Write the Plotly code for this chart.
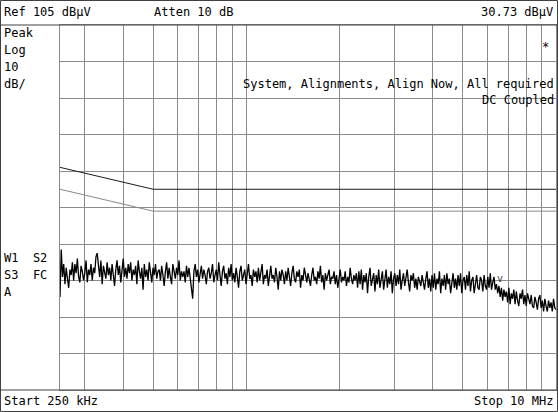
import numpy as np
import plotly.graph_objects as go

# ---------------- data ----------------
start_hz = 250e3
stop_hz = 10e6
n_points = 401

trace_dbuv = [
    30.5, 43.5, 36.0, 39.5, 34.0, 38.5, 35.5, 33.0, 38.0, 36.5, 40.0, 35.0, 39.5, 37.0, 41.0, 36.0, 34.5, 39.0, 37.5, 35.0,
    37.0, 40.5, 34.5, 38.0, 36.5, 39.5, 35.0, 38.5, 37.0, 41.5, 42.5, 38.0, 36.0, 40.5, 34.0, 39.0, 37.5, 35.5, 40.0, 36.5,
    38.5, 35.0, 39.5, 37.0, 33.5, 38.0, 40.5, 36.5, 39.0, 34.5, 37.5, 41.0, 36.0, 38.5, 35.5, 39.5, 37.0, 40.0, 35.0, 38.0,
    36.5, 39.0, 34.0, 40.5, 37.5, 35.5, 38.5, 32.5, 39.5, 36.0, 38.0, 35.0, 40.0, 37.0, 34.5, 38.5, 36.5, 39.5, 35.5, 37.5,
    38.0, 35.0, 39.0, 36.5, 33.5, 37.5, 40.0, 35.5, 38.5, 36.0, 34.0, 39.5, 37.0, 35.5, 38.5, 36.5, 40.5, 35.0, 37.5, 36.0,
    37.5, 34.5, 39.0, 36.0, 38.5, 35.0, 33.0, 30.0, 37.5, 39.5, 36.0, 38.0, 34.5, 37.0, 39.0, 35.5, 38.0, 36.5, 34.0, 37.5,
    38.5, 35.5, 37.0, 39.5, 34.5, 36.5, 38.0, 35.0, 40.0, 36.5, 33.5, 37.5, 39.0, 35.5, 37.0, 34.0, 38.5, 36.0, 39.5, 35.0,
    37.0, 34.5, 38.5, 36.0, 33.0, 37.5, 39.0, 35.0, 36.5, 38.0, 34.0, 37.0, 39.5, 35.5, 36.5, 33.5, 38.0, 36.0, 37.5, 34.5,
    38.5, 35.0, 37.0, 39.5, 34.0, 36.5, 35.5, 38.0, 33.5, 37.0, 39.0, 35.5, 36.5, 34.5, 38.5, 36.0, 32.5, 37.5, 35.0, 38.0,
    36.5, 34.0, 37.5, 35.0, 38.5, 36.0, 33.5, 37.0, 39.0, 35.5, 34.5, 37.5, 36.0, 38.0, 33.0, 36.5, 35.0, 38.5, 36.0, 34.5,
    37.0, 35.5, 33.5, 36.5, 38.5, 35.0, 36.0, 34.0, 37.5, 35.5, 39.0, 34.5, 36.5, 32.5, 37.0, 35.0, 36.5, 38.0, 34.0, 36.0,
    35.5, 37.5, 34.0, 36.5, 33.0, 35.5, 38.0, 34.5, 36.0, 35.0, 37.5, 33.5, 36.0, 34.5, 38.5, 35.5, 34.0, 36.5, 35.0, 37.0,
    33.0, 37.5, 34.0, 38.0, 32.5, 36.5, 34.5, 37.0, 31.5, 36.0, 38.5, 33.5, 35.5, 37.0, 32.0, 36.5, 34.0, 38.0, 33.0, 36.0,
    37.5, 32.5, 35.5, 38.0, 33.0, 36.0, 34.0, 37.5, 31.5, 35.5, 37.0, 33.5, 36.5, 34.0, 38.0, 32.5, 35.0, 37.0, 33.5, 36.0,
    38.0, 34.5, 32.0, 36.5, 35.0, 37.0, 33.0, 35.5, 32.5, 36.0, 34.5, 33.5, 36.5, 34.0, 32.5, 35.5, 37.5, 33.0, 35.5, 32.0,
    36.5, 33.0, 37.0, 32.5, 35.5, 34.0, 37.5, 31.5, 35.5, 33.5, 36.5, 32.5, 37.0, 34.0, 35.5, 31.5, 34.5, 37.0, 33.0, 35.5,
    32.5, 36.5, 33.5, 37.0, 31.5, 35.0, 36.0, 32.5, 36.5, 33.5, 37.5, 32.0, 35.0, 36.0, 31.5, 34.5, 36.5, 33.0, 32.5, 36.0,
    35.0, 32.0, 36.5, 33.5, 32.5, 36.0, 33.0, 37.0, 32.5, 34.5, 36.0, 32.5, 34.0, 31.5, 33.5, 30.5, 33.0, 29.5, 32.5, 30.5,
    32.0, 29.0, 33.0, 28.5, 31.5, 30.0, 32.5, 28.5, 32.0, 29.5, 28.0, 31.5, 30.0, 32.5, 28.5, 31.0, 28.0, 31.5, 29.5, 28.5,
    31.0, 28.0, 27.5, 30.5, 29.0, 27.0, 30.0, 31.0, 27.5, 29.5, 26.5, 30.0, 28.0, 26.5, 29.5, 27.5, 29.0, 26.5, 30.0, 27.5, 27.0,
]

limit1_freq = [250e3, 500e3, 10e6]
limit1_dbuv = [66.0, 60.0, 60.0]
limit2_freq = [250e3, 500e3, 10e6]
limit2_dbuv = [60.0, 54.0, 54.0]

marker_freq = [6.6e6]
marker_dbuv = [34.0]

x_grid_hz = [3e5, 4e5, 5e5, 6e5, 7e5, 8e5, 9e5, 1e6, 2e6, 3e6, 4e6, 5e6, 6e6, 7e6, 8e6, 9e6]
ref_level = 105
db_per_div = 10
n_div = 10

freqs = np.geomspace(start_hz, stop_hz, n_points)

# ---------------- layout geometry ----------------
W, H = 558, 412
L, R, T, B = 60, 2, 25, 22
PW = W - L - R
PH = H - T - B


def px(x):
    return (x - L) / PW


def py(y):
    return 1 - (y - T) / PH


FONT = "DejaVu Sans Mono"
GRID = "#8c8c8c"
FRAME = "#404040"

fig = go.Figure()

fig.add_trace(go.Scatter(x=limit2_freq, y=limit2_dbuv, mode="lines",
                         line=dict(color="#888888", width=1), hoverinfo="skip"))
fig.add_trace(go.Scatter(x=limit1_freq, y=limit1_dbuv, mode="lines",
                         line=dict(color="#1a1a1a", width=1), hoverinfo="skip"))
fig.add_trace(go.Scatter(x=freqs, y=trace_dbuv, mode="lines",
                         line=dict(color="#000000", width=1.3), hoverinfo="skip"))
fig.add_trace(go.Scatter(x=marker_freq, y=marker_dbuv, mode="text", text=["v"],
                         textposition="top center",
                         textfont=dict(family=FONT, size=10, color="#444444"),
                         hoverinfo="skip", cliponaxis=False))

shapes = []
# outer frame
shapes.append(dict(type="rect", xref="paper", yref="paper",
                   x0=px(0.5), x1=px(557.5), y0=py(0.5), y1=py(411.5),
                   line=dict(color=FRAME, width=1)))
# header/footer separators
for yy in (T, H - B):
    shapes.append(dict(type="line", xref="paper", yref="paper",
                       x0=px(0.5), x1=px(557.5), y0=py(yy), y1=py(yy),
                       line=dict(color=FRAME, width=1)))

ann = []


def text(s, x, y, anchor="left", size=12):
    ann.append(dict(text=s, xref="paper", yref="paper", x=px(x), y=py(y),
                    xanchor=anchor, yanchor="middle", showarrow=False,
                    font=dict(family=FONT, size=size, color="#000000")))


text("Ref 105 dB\u03bcV", 2, 12)
text("Atten 10 dB", 152, 12)
text("30.73 dB\u03bcV", 555, 12, "right")
text("Peak", 2, 33)
text("Log", 2, 50)
text("10", 2, 67)
text("dB/", 2, 84)
text("*", 545, 47, "center")
text("System, Alignments, Align Now, All required", 556, 84, "right")
text("DC Coupled", 556, 100, "right")
text("W1  S2", 2, 258)
text("S3  FC", 2, 275)
text("A", 2, 292)
text("Start 250 kHz", 2, 401)
text("Stop 10 MHz", 555, 401, "right")

fig.update_layout(
    width=W, height=H,
    margin=dict(l=L, r=R, t=T, b=B, pad=0),
    paper_bgcolor="white", plot_bgcolor="white",
    showlegend=False,
    shapes=shapes, annotations=ann,
    xaxis=dict(type="log", range=[np.log10(start_hz), np.log10(stop_hz)],
               tickvals=x_grid_hz, showticklabels=False, ticks="",
               showgrid=True, gridcolor=GRID, gridwidth=1, zeroline=False,
               showline=True, linecolor=GRID, linewidth=1, mirror=True),
    yaxis=dict(range=[ref_level - n_div * db_per_div, ref_level],
               tick0=ref_level, dtick=db_per_div, showticklabels=False, ticks="",
               showgrid=True, gridcolor=GRID, gridwidth=1, zeroline=False,
               showline=True, linecolor=GRID, linewidth=1, mirror=True),
)

fig.write_html("out.html", config={"displayModeBar": False},
               post_script="document.body.style.margin='0';document.body.style.padding='0';")
